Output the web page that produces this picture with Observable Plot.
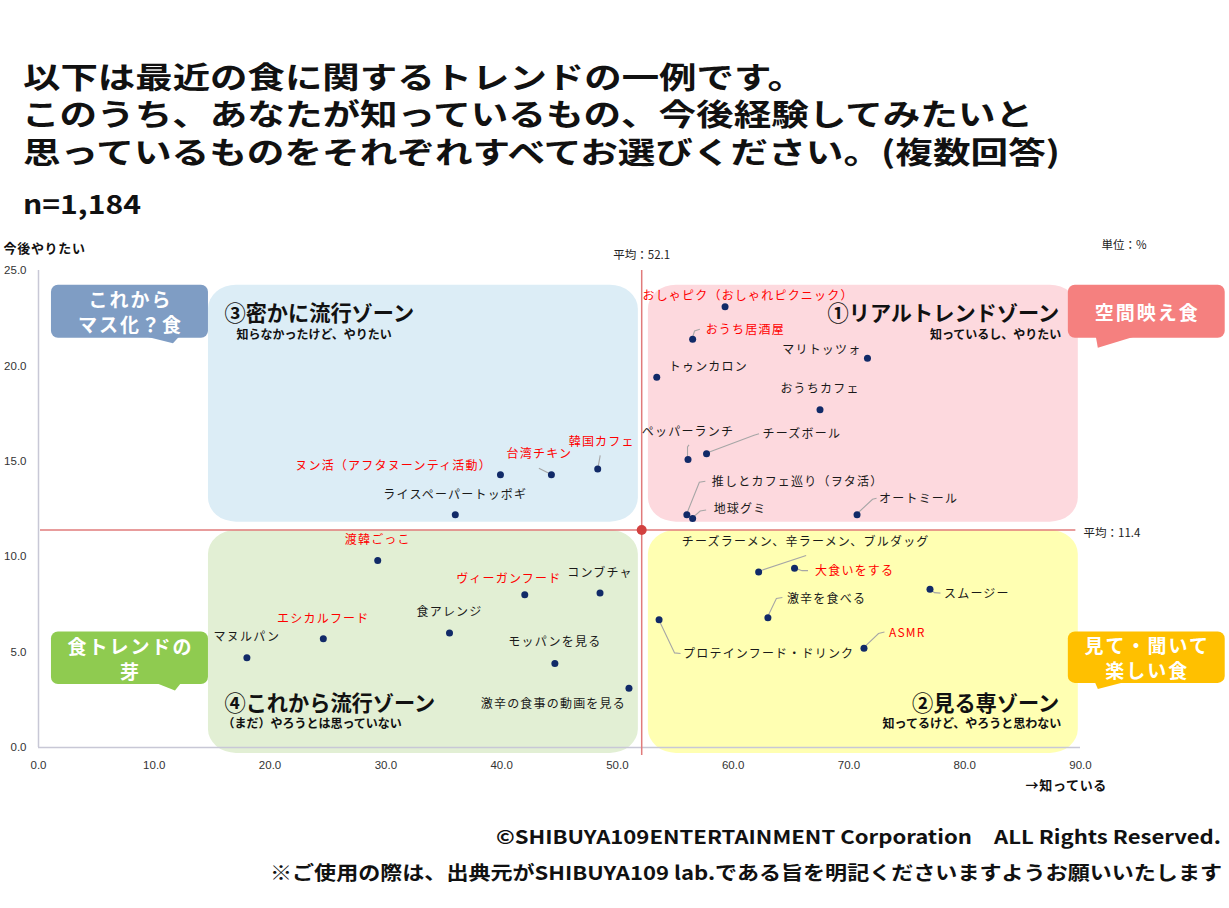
<!DOCTYPE html>
<html lang="ja">
<head>
<meta charset="utf-8">
<script src="https://cdn.jsdelivr.net/npm/d3@7"></script>
<script src="https://cdn.jsdelivr.net/npm/@observablehq/plot@0.6"></script>
<style>
html,body{margin:0;padding:0;background:#fff;}
body{width:1229px;height:908px;position:relative;overflow:hidden;font-family:"Noto Sans CJK JP",sans-serif;}
#head{position:absolute;left:0;top:0;}
#chart{position:absolute;left:0;top:230px;}
#foot{position:absolute;left:0;top:800px;}
#head text,#foot text{font-family:"Noto Sans CJK JP",sans-serif;font-weight:700;fill:#111;}
</style>
</head>
<body>
<svg id="head" width="1229" height="230">
  <text x="23" y="75" font-size="30" dominant-baseline="central" textLength="782" lengthAdjust="spacingAndGlyphs">以下は最近の食に関するトレンドの一例です。</text>
  <text x="22" y="112" font-size="30" dominant-baseline="central" textLength="1011" lengthAdjust="spacingAndGlyphs">このうち、あなたが知っているもの、今後経験してみたいと</text>
  <text x="23" y="150" font-size="30" dominant-baseline="central" textLength="1037" lengthAdjust="spacingAndGlyphs">思っているものをそれぞれすべてお選びください。(複数回答)</text>
  <text x="23" y="202" font-size="26" dominant-baseline="central" textLength="118" lengthAdjust="spacingAndGlyphs">n=1,184</text>
</svg>
<div id="chart"></div>
<svg id="foot" width="1229" height="108">
  <text x="496" y="35" font-size="19" dominant-baseline="central" textLength="725" lengthAdjust="spacingAndGlyphs">©SHIBUYA109ENTERTAINMENT Corporation　ALL Rights Reserved.</text>
  <text x="270" y="71" font-size="19" dominant-baseline="central" textLength="952" lengthAdjust="spacingAndGlyphs">※ご使用の際は、出典元がSHIBUYA109 lab.である旨を明記くださいますようお願いいたします</text>
</svg>
<script>
// ---- data ----
const names = [
  "おしゃピク（おしゃれピクニック）", "おうち居酒屋", "マリトッツォ", "トゥンカロン", "おうちカフェ",
  "ペッパーランチ", "チーズボール", "推しとカフェ巡り（ヲタ活）", "地球グミ", "オートミール",
  "ヌン活（アフタヌーンティ活動）", "台湾チキン", "韓国カフェ", "ライスペーパートッポギ",
  "渡韓ごっこ", "ヴィーガンフード", "コンブチャ", "食アレンジ", "エシカルフード", "マヌルパン",
  "モッパンを見る", "激辛の食事の動画を見る",
  "チーズラーメン、辛ラーメン、ブルダッグ", "大食いをする", "スムージー", "激辛を食べる",
  "プロテインフード・ドリンク", "ASMR"
];
// 知っている (%)
const aware = [59.3, 56.5, 71.6, 53.4, 67.5, 56.1, 57.7, 56.0, 56.5, 70.7,
               39.9, 44.3, 48.3, 36.0,
               29.3, 42.0, 48.5, 35.5, 24.6, 18.0, 44.6, 51.0,
               62.2, 65.3, 77.0, 63.0, 53.6, 71.3];
// 今後やりたい (%)
const want = [23.1, 21.4, 20.4, 19.4, 17.7, 15.1, 15.4, 12.2, 12.0, 12.2,
              14.3, 14.3, 14.6, 12.2,
              9.8, 8.0, 8.1, 6.0, 5.7, 4.7, 4.4, 3.1,
              9.2, 9.4, 8.3, 6.8, 6.7, 5.2];
// highlighted (red) items
const isNew = [true, true, false, false, false, false, false, false, false, false,
               true, true, true, false,
               true, true, false, false, true, false, false, false,
               false, true, false, false, false, true];
const meanAware = 52.1;
const meanWant = 11.4;
const xTicks = [0, 10, 20, 30, 40, 50, 60, 70, 80, 90];
const yTicks = [0, 5, 10, 15, 20, 25];
const zoneNames = ["③密かに流行ゾーン", "①リアルトレンドゾーン", "④これから流行ゾーン", "②見る専ゾーン"];
const zoneNotes = ["知らなかったけど、やりたい", "知っているし、やりたい", "（まだ）やろうとは思っていない", "知ってるけど、やろうと思わない"];
const calloutTexts = [["これから", "マス化？食"], ["食トレンドの", "芽"], ["空間映え食"], ["見て・聞いて", "楽しい食"]];
const yAxisTitle = "今後やりたい";
const xAxisTitle = "→知っている";
const unitText = "単位：%";

// ---- layout (label placement, pixels relative to point) ----
const layout = {
  "おしゃピク（おしゃれピクニック）": {a: "middle", dx: 23, dy: -11},
  "おうち居酒屋": {a: "start", dx: 13, dy: -9, lead: [[0, 0], [2.4, -7.7], [7.7, -9.4]]},
  "マリトッツォ": {a: "end", dx: -6, dy: -8},
  "トゥンカロン": {a: "start", dx: 12, dy: -10},
  "おうちカフェ": {a: "middle", dx: 0, dy: -21},
  "ペッパーランチ": {a: "middle", dx: 0, dy: -27, lead: [[0, -3], [0, -12], [1.5, -14]]},
  "チーズボール": {a: "start", dx: 56, dy: -20, lead: [[0, 0], [48, -18], [53, -19.5]]},
  "推しとカフェ巡り（ヲタ活）": {a: "start", dx: 25, dy: -33, lead: [[1, -2], [13, -32], [19, -33]]},
  "地球グミ": {a: "start", dx: 21, dy: -9, lead: [[0, 0], [8, -7], [14, -8]]},
  "オートミール": {a: "start", dx: 22, dy: -16, lead: [[0, 0], [16, -15], [20, -16]]},
  "ヌン活（アフタヌーンティ活動）": {a: "end", dx: -8.5, dy: -8},
  "台湾チキン": {a: "middle", dx: -12, dy: -20.5, lead: [[-2, -1], [-12, -6]]},
  "韓国カフェ": {a: "middle", dx: 4, dy: -26.7, lead: [[1, -2], [3, -13]]},
  "ライスペーパートッポギ": {a: "middle", dx: 0, dy: -20},
  "渡韓ごっこ": {a: "middle", dx: 0, dy: -20},
  "ヴィーガンフード": {a: "middle", dx: -16, dy: -15.4},
  "コンブチャ": {a: "middle", dx: 0, dy: -20},
  "食アレンジ": {a: "middle", dx: 0, dy: -21},
  "エシカルフード": {a: "middle", dx: 0, dy: -20},
  "マヌルパン": {a: "middle", dx: 0, dy: -21},
  "モッパンを見る": {a: "middle", dx: 0, dy: -21},
  "激辛の食事の動画を見る": {a: "end", dx: -3, dy: 16},
  "チーズラーメン、辛ラーメン、ブルダッグ": {a: "middle", dx: 47, dy: -30, lead: [[0, 0], [48, -16]]},
  "大食いをする": {a: "start", dx: 20.5, dy: 2.7, lead: [[0, 0], [8, 3], [14, 3]]},
  "スムージー": {a: "start", dx: 14, dy: 5, lead: [[0, 0], [5, 4], [11, 4.5]]},
  "激辛を食べる": {a: "start", dx: 19, dy: -18.7, lead: [[0, 0], [9, -18.7], [15, -19.7]]},
  "プロテインフード・ドリンク": {a: "start", dx: 24, dy: 34, lead: [[0, 0], [16, 33.7], [22, 34.3]]},
  "ASMR": {a: "start", dx: 25, dy: -15, lead: [[0, 0], [15, -14.3], [21, -15.7]]}
};

const items = names.map((name, i) => ({name, x: aware[i], y: want[i], isNew: isNew[i]}));

const JP = "'Noto Sans CJK JP', sans-serif";

const zones = [
  {name: zoneNames[0], note: zoneNotes[0], x1: 14.68, x2: meanAware - 0.29, y1: meanWant + 0.41, y2: 24.23, fill: "#dcedf6", h: "left", v: "top"},
  {name: zoneNames[1], note: zoneNotes[1], x1: meanAware + 0.58, x2: 89.81, y1: meanWant + 0.41, y2: 24.23, fill: "#fdd9de", h: "right", v: "top"},
  {name: zoneNames[2], note: zoneNotes[2], x1: 14.68, x2: meanAware - 0.29, y1: -0.31, y2: meanWant - 0.02, fill: "#e2efd4", h: "left", v: "bottom"},
  {name: zoneNames[3], note: zoneNotes[3], x1: meanAware + 0.58, x2: 89.81, y1: -0.31, y2: meanWant - 0.02, fill: "#ffffb2", h: "right", v: "bottom"}
];

const callouts = [
  {lines: calloutTexts[0], x1: 1.12, x2: 14.68, y1: 21.45, y2: 24.23, fill: "#7f9dc4", tail: [[96, 0], [122, 6.5], [128, 0]]},
  {lines: calloutTexts[1], x1: 1.12, x2: 14.68, y1: 3.30, y2: 6.05, fill: "#8fcb50", tail: [[105, 0], [124, 7.5], [130, 0]]},
  {lines: calloutTexts[2], x1: 88.95, x2: 102.5, y1: 21.45, y2: 24.23, fill: "#f5807f", tail: [[28, 0], [30, 11], [66, 0]]},
  {lines: calloutTexts[3], x1: 88.95, x2: 102.5, y1: 3.36, y2: 6.05, fill: "#ffc000", tail: [[27, 0], [30, 7], [57, 0]]}
];

function drawLeaders(index, scales) {
  const {x, y} = scales;
  const g = d3.create("svg:g");
  for (const d of items) {
    const L = layout[d.name];
    if (!L || !L.lead) continue;
    const px = x(d.x), py = y(d.y);
    g.append("path")
      .attr("d", d3.line()(L.lead.map(([a, b]) => [px + a, py + b])))
      .attr("fill", "none").attr("stroke", "#a6a6a6").attr("stroke-width", 1.1);
  }
  return g.node();
}

function drawCallouts(index, scales) {
  const {x, y} = scales;
  const g = d3.create("svg:g");
  for (const c of callouts) {
    const L = x(c.x1), R = x(c.x2), T = y(c.y2), B = y(c.y1);
    g.append("rect").attr("x", L).attr("y", T).attr("width", R - L).attr("height", B - T)
      .attr("rx", 7).attr("fill", c.fill);
    g.append("path")
      .attr("d", "M" + c.tail.map(([a, b]) => [L + a, B - 1 + b].join(",")).join("L") + "Z")
      .attr("fill", c.fill);
    const cx = (L + R) / 2, cy = (T + B) / 2, n = c.lines.length;
    c.lines.forEach((t, k) => {
      g.append("text")
        .attr("x", cx + 1).attr("y", cy + (k - (n - 1) / 2) * 25.5)
        .attr("text-anchor", "middle").attr("dominant-baseline", "central")
        .attr("fill", "#fff").attr("font-family", JP).attr("font-weight", 700)
        .attr("font-size", 19).style("letter-spacing", "2px")
        .text(t);
    });
  }
  return g.node();
}

const labelMarks = items.map(d => {
  const L = layout[d.name];
  return Plot.text([d], {
    x: "x", y: "y", text: "name",
    dx: L.dx, dy: L.dy, textAnchor: L.a,
    fill: d.isNew ? "#ff0000" : "#1a1a1a",
    fontFamily: JP, fontSize: 12
  });
});

const zoneMarks = zones.map(z =>
  Plot.rect([z], {x1: "x1", x2: "x2", y1: "y1", y2: "y2", fill: z.fill, rx: 28, ry: 24})
);

const zoneTextMarks = zones.flatMap(z => {
  const left = z.h === "left", top = z.v === "top";
  const X = left ? "x1" : "x2", Y = top ? "y2" : "y1";
  return [
    Plot.text([z], {x: X, y: Y, text: "name", textAnchor: left ? "start" : "end",
      dx: left ? 16 : -19, dy: top ? 29.5 : -49, fontFamily: JP, fontWeight: 700, fontSize: 21.2, fill: "#111"}),
    Plot.text([z], {x: X, y: Y, text: "note", textAnchor: left ? "start" : "end",
      dx: left ? (top ? 28 : 14) : -17, dy: top ? 49.5 : -29.5, fontFamily: JP, fontWeight: 700, fontSize: 12, fill: "#111"})
  ];
});

const chart = Plot.plot({
  width: 1229,
  height: 580,
  marginLeft: 38,
  marginRight: 149,
  marginTop: 40,
  marginBottom: 63,
  style: {fontFamily: "'Liberation Sans', Arial, sans-serif", fontSize: "11.5px", color: "#333", background: "transparent", overflow: "visible"},
  x: {domain: [0, 90], label: null},
  y: {domain: [0, 25], label: null},
  marks: [
    ...zoneMarks,
    Plot.ruleX([0], {y1: 0, y2: 25, stroke: "#c8c8d6", strokeWidth: 1.5}),
    Plot.ruleY([0], {x1: 0, x2: 90, stroke: "#c8c8d6", strokeWidth: 1.5}),
    Plot.axisX(xTicks, {tickSize: 0, tickPadding: 13, tickFormat: d => d.toFixed(1), label: null}),
    Plot.axisY(yTicks, {tickSize: 0, tickPadding: 12, tickFormat: d => d.toFixed(1), label: null}),
    Plot.ruleX([meanAware], {y1: -0.42, y2: 25, stroke: "#e07b7b", strokeWidth: 1.5}),
    Plot.ruleY([meanWant], {x1: 0.17, x2: 89.6, stroke: "#e07b7b", strokeWidth: 1.5}),
    drawLeaders,
    Plot.dot(items, {x: "x", y: "y", r: 3.5, fill: "#112a68"}),
    Plot.dot([{x: meanAware, y: meanWant}], {x: "x", y: "y", r: 5, fill: "#d2403f"}),
    ...labelMarks,
    ...zoneTextMarks,
    drawCallouts,
    Plot.text([meanAware], {x: d => d, frameAnchor: "top", dy: -20, text: d => `平均：${d.toFixed(1)}`,
      fontFamily: JP, fontSize: 11.5, fill: "#222"}),
    Plot.text([meanWant], {y: d => d, frameAnchor: "right", dx: 3, dy: 3, textAnchor: "start",
      text: d => `平均：${d.toFixed(1)}`, fontFamily: JP, fontSize: 11.5, fill: "#222"}),
    Plot.text([unitText], {frameAnchor: "top-right", dx: 21, dy: -30, textAnchor: "start", text: d => d,
      fontFamily: JP, fontSize: 11.5, fill: "#222"}),
    Plot.text([yAxisTitle], {frameAnchor: "top-left", dx: -35, dy: -27, textAnchor: "start", text: d => d,
      fontFamily: JP, fontSize: 13, fontWeight: 700, fill: "#111"}),
    Plot.text([xAxisTitle], {frameAnchor: "bottom-right", dx: -55, dy: 42, textAnchor: "start", text: d => d,
      fontFamily: JP, fontSize: 13, fontWeight: 700, fill: "#111"})
  ]
});

// letter spacing for point labels
const nameSet = new Set(names);
chart.querySelectorAll("text").forEach(t => {
  if (nameSet.has(t.textContent)) t.style.letterSpacing = "1.2px";
  if (t.textContent === yAxisTitle || t.textContent === xAxisTitle) t.style.letterSpacing = "0.7px";
});
document.getElementById("chart").appendChild(chart);
</script>
</body>
</html>
